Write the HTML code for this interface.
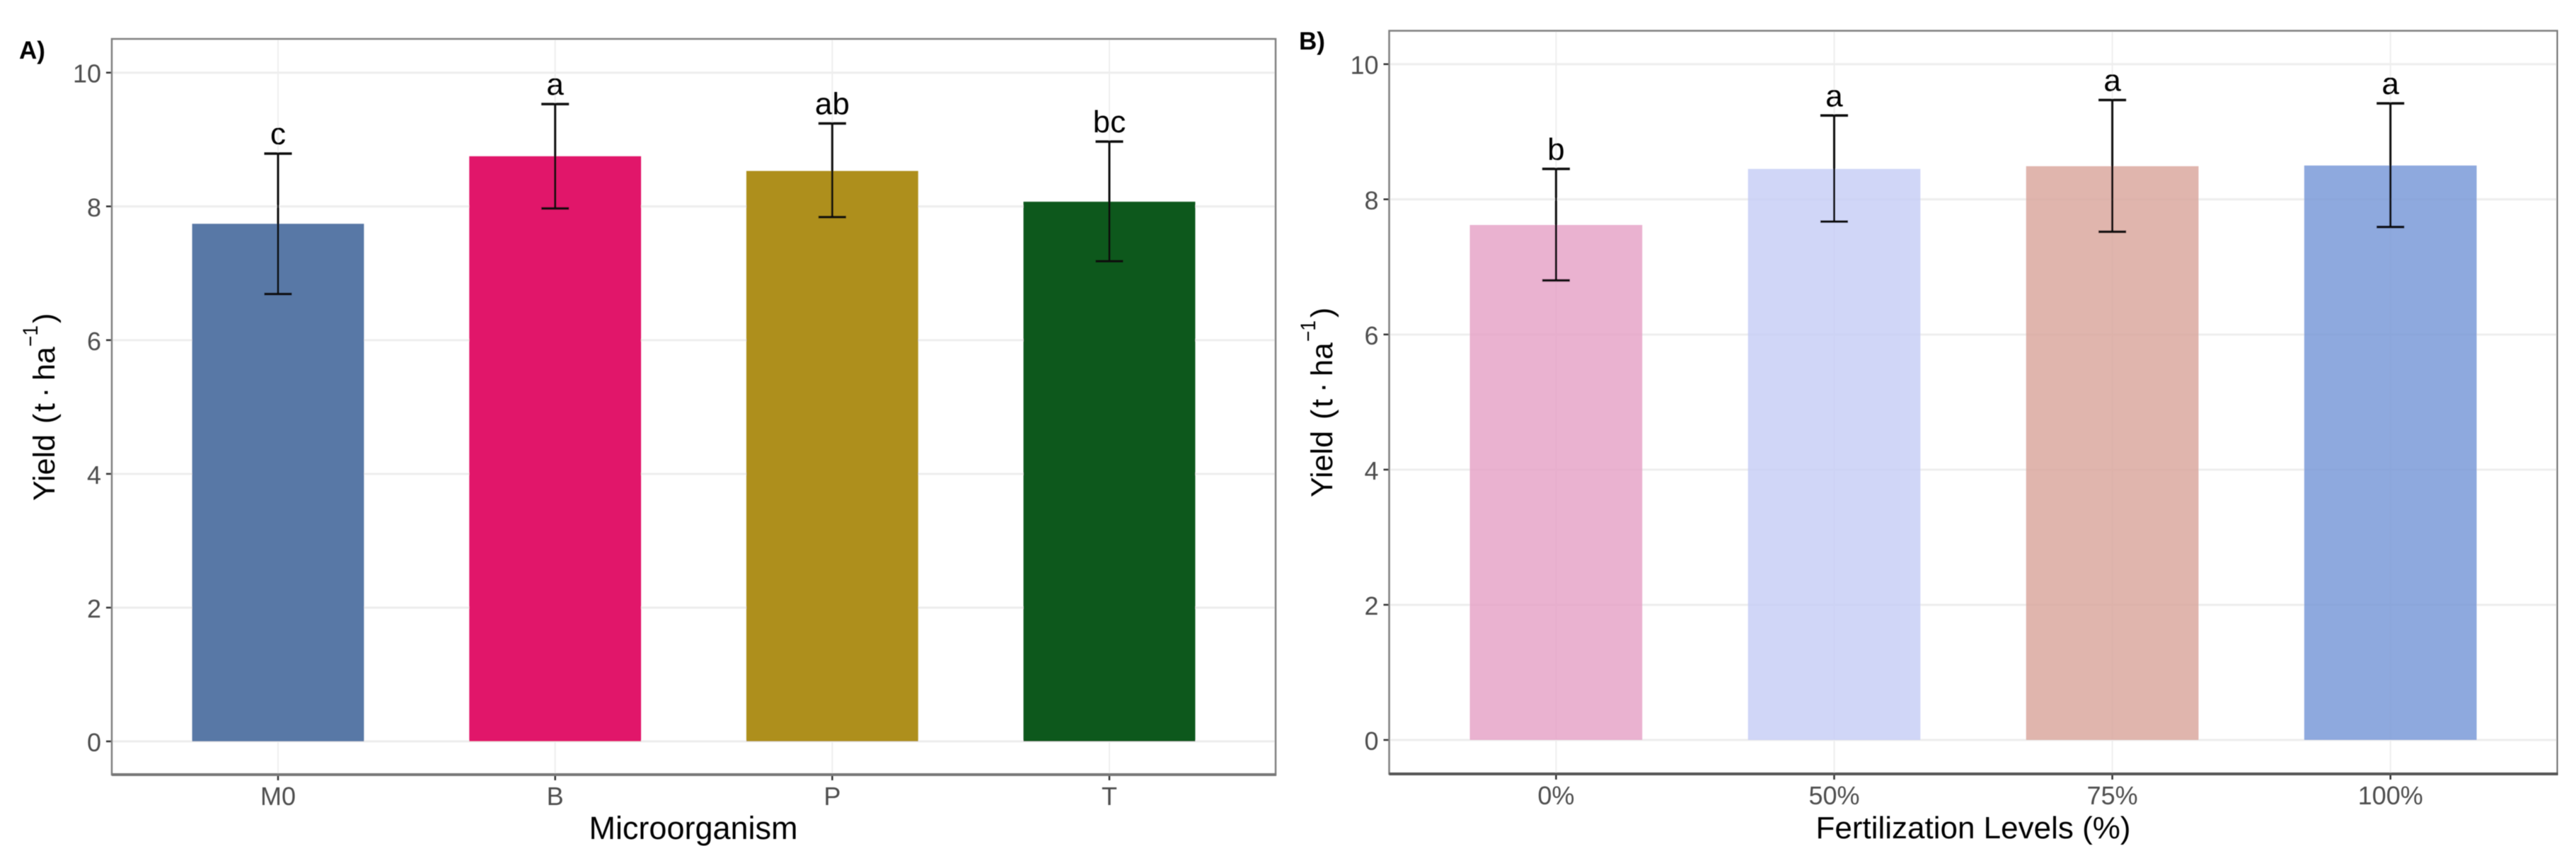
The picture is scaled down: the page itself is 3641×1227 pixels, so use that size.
<!DOCTYPE html>
<html lang="en">
<head>
<meta charset="utf-8">
<title>Yield by microorganism and fertilization level</title>
<style>
html,body{margin:0;padding:0;background:#fff;width:3641px;height:1227px;overflow:hidden}
svg{display:block;font-family:"Liberation Sans",Arial,sans-serif}
</style>
</head>
<body>
<svg id="chart" xmlns="http://www.w3.org/2000/svg" width="3641" height="1227" viewBox="0 0 3641 1227">
  <defs>
    <filter id="soft" x="0" y="0" width="100%" height="100%"><feGaussianBlur stdDeviation="0.6"/></filter>
  </defs>
  <rect width="3641" height="1227" fill="#ffffff"/>
  <g id="root" filter="url(#soft)">
    <text x="27" y="83" font-size="35" font-weight="700" fill="#000">A)</text>
    <text x="1836" y="70" font-size="35" font-weight="700" fill="#000">B)</text>

    <g transform="translate(77,708) rotate(-90)" fill="#000" font-size="43">
      <text x="0" y="0">Yield</text>
      <text x="109" y="0">(</text>
      <text x="126" y="0">t</text>
      <text x="146" y="0">·</text>
      <text x="170" y="0">ha</text>
      <text x="218" y="-24" font-size="30" textLength="30" lengthAdjust="spacingAndGlyphs">−1</text>
      <text x="251" y="0">)</text>
    </g>
    <g transform="translate(1883,703) rotate(-90)" fill="#000" font-size="43">
      <text x="0" y="0">Yield</text>
      <text x="110" y="0">(</text>
      <text x="127" y="0">t</text>
      <text x="148" y="0">·</text>
      <text x="171" y="0">ha</text>
      <text x="220" y="-24" font-size="30" textLength="30" lengthAdjust="spacingAndGlyphs">−1</text>
      <text x="254" y="0">)</text>
    </g>

    <text x="980" y="1186" font-size="45" text-anchor="middle" fill="#000">Microorganism</text>
    <text x="2789" y="1185" font-size="44" text-anchor="middle" fill="#000">Fertilization Levels (%)</text>
  </g>
</svg>
<script>
const yTickValues = [0, 2, 4, 6, 8, 10];

const microbeCategories = ["M0", "B", "P", "T"];
const microbeMeans = [7.74, 8.75, 8.53, 8.07];
const microbeUpper = [8.79, 9.53, 9.24, 8.97];
const microbeLower = [6.69, 7.97, 7.84, 7.18];
const microbeLetters = ["c", "a", "ab", "bc"];
const microbeColors = ["#5878a6", "#e1176b", "#ae8f1a", "#0a581f"];

const fertCategories = ["0%", "50%", "75%", "100%"];
const fertMeans = [7.62, 8.45, 8.49, 8.50];
const fertUpper = [8.45, 9.24, 9.47, 9.42];
const fertLower = [6.80, 7.67, 7.52, 7.59];
const fertLetters = ["b", "a", "a", "a"];
const fertColors = ["rgba(229,159,196,0.8)", "rgba(196,204,245,0.8)", "rgba(216,162,152,0.8)", "rgba(114,148,214,0.8)"];

const NS = "http://www.w3.org/2000/svg";
const root = document.getElementById("root");

function make(tag, attrs, parent) {
  const node = document.createElementNS(NS, tag);
  for (const key in attrs) node.setAttribute(key, attrs[key]);
  parent.appendChild(node);
  return node;
}

function drawPanel(prefix, box, categories, means, upper, lower, letters, colors) {
  const group = make("g", {}, root);
  
  

  const unit = (box.yZero - box.yTen) / 10;
  const yScale = function (v) { return box.yZero - v * unit; };
  const step = (box.right - box.left) / (categories.length - 1 + 1.2);
  const xScale = function (i) { return box.left + step * (0.6 + i); };
  const barWidth = step * 0.62;

  yTickValues.forEach(function (v) {
    let el = make("line", { x1: box.left, x2: box.right, y1: yScale(v), y2: yScale(v), stroke: "#eeeeee", "stroke-width": 3 }, group);
    
    
    el = make("line", { x1: box.left - 8, x2: box.left, y1: yScale(v), y2: yScale(v), stroke: "#333333", "stroke-width": 2.5 }, group);
    
    
    el = make("text", { x: box.left - 15, y: yScale(v) + 14, "font-size": 36, "text-anchor": "end", fill: "#4d4d4d" }, group);
    
    
    el.textContent = String(v);
  });

  categories.forEach(function (cat, i) {
    const x = xScale(i);
    let el = make("line", { x1: x, x2: x, y1: box.top, y2: box.bottom, stroke: "#eeeeee", "stroke-width": 2 }, group);
    
    
  });

  categories.forEach(function (cat, i) {
    const x = xScale(i);
    let el = make("rect", { x: x - barWidth / 2, y: yScale(means[i]), width: barWidth, height: yScale(0) - yScale(means[i]), fill: colors[i] }, group);
    
    

    el = make("line", { x1: x, x2: x, y1: yScale(upper[i]), y2: yScale(lower[i]), stroke: "#111111", "stroke-width": 3 }, group);
    
    
    el = make("line", { x1: x - 19.5, x2: x + 19.5, y1: yScale(upper[i]), y2: yScale(upper[i]), stroke: "#111111", "stroke-width": 3.5 }, group);
    
    
    el = make("line", { x1: x - 19.5, x2: x + 19.5, y1: yScale(lower[i]), y2: yScale(lower[i]), stroke: "#111111", "stroke-width": 3.5 }, group);
    
    

    el = make("text", { x: x, y: yScale(upper[i]) - 13, "font-size": 44, "text-anchor": "middle", fill: "#000000" }, group);
    
    
    el.textContent = letters[i];

    el = make("line", { x1: x, x2: x, y1: box.bottom, y2: box.bottom + 8, stroke: "#333333", "stroke-width": 2.5 }, group);
    
    
    el = make("text", { x: x, y: box.bottom + 43, "font-size": 36, "text-anchor": "middle", fill: "#4d4d4d" }, group);
    
    
    el.textContent = cat;
  });

  let frame = make("rect", { x: box.left, y: box.top, width: box.right - box.left, height: box.bottom - box.top, fill: "none", stroke: "#7f7f7f", "stroke-width": 2.5 }, group);
  
  
  frame = make("line", { x1: box.left, x2: box.right + 1, y1: box.bottom, y2: box.bottom, stroke: box.baseColor, "stroke-width": 4 }, group);
  
  
}

drawPanel("panel-a",
  { left: 158, right: 1803, top: 55, bottom: 1095, yZero: 1048, yTen: 102.7, baseColor: "#777777" },
  microbeCategories, microbeMeans, microbeUpper, microbeLower, microbeLetters, microbeColors);

drawPanel("panel-b",
  { left: 1963.5, right: 3614.6, top: 43.5, bottom: 1094, yZero: 1046, yTen: 90.7, baseColor: "#555555" },
  fertCategories, fertMeans, fertUpper, fertLower, fertLetters, fertColors);
</script>
</body>
</html>
